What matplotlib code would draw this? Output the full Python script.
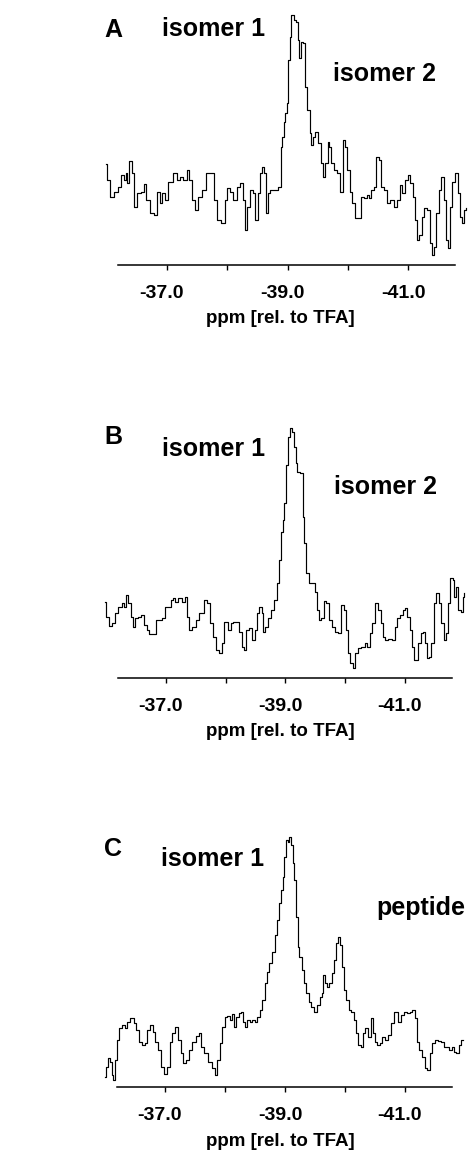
import matplotlib
matplotlib.use("Agg")
import matplotlib.pyplot as plt
from matplotlib.transforms import ScaledTranslation

plt.rcParams['font.family'] = ['Liberation Sans', 'DejaVu Sans']
plt.rcParams['font.weight'] = 'bold'

# 19F spectra, ppm relative to TFA, intensity in arbitrary units
A_ppm = [-36.00, -36.03, -36.09, -36.17, -36.23, -36.27, -36.31, -36.34, -36.36, -36.40,
         -36.44, -36.47, -36.53, -36.61, -36.64, -36.69, -36.77, -36.81, -36.86, -36.92,
         -36.94, -37.00, -37.04, -37.08, -37.14, -37.19, -37.25, -37.30, -37.36, -37.39,
         -37.44, -37.50, -37.55, -37.62, -37.68, -37.75, -37.80, -37.86, -37.94, -37.98,
         -38.02, -38.08, -38.13, -38.19, -38.24, -38.28, -38.32, -38.35, -38.41, -38.45,
         -38.49, -38.54, -38.56, -38.60, -38.63, -38.66, -38.68, -38.74, -38.82, -38.88,
         -38.90, -38.92, -38.95, -38.98, -39.00, -39.03, -39.04, -39.09, -39.13, -39.16,
         -39.18, -39.21, -39.24, -39.28, -39.31, -39.35, -39.38, -39.40, -39.43, -39.49,
         -39.53, -39.57, -39.60, -39.65, -39.68, -39.71, -39.74, -39.79, -39.85, -39.90,
         -39.94, -39.97, -40.01, -40.05, -40.09, -40.14, -40.19, -40.23, -40.29, -40.33,
         -40.36, -40.40, -40.45, -40.49, -40.54, -40.57, -40.62, -40.68, -40.73, -40.79,
         -40.84, -40.88, -40.92, -40.97, -41.01, -41.05, -41.09, -41.12, -41.16, -41.20,
         -41.25, -41.28, -41.34, -41.38, -41.41, -41.43, -41.48, -41.52, -41.57, -41.60,
         -41.64, -41.67, -41.71, -41.75, -41.80, -41.84, -41.88, -41.91, -41.94, -41.96]
A_int = [101, 85, 68, 73, 78, 90, 85, 92, 82, 104,
         92, 58, 72, 73, 81, 65, 52, 50, 73, 62,
         72, 65, 83, 83, 92, 85, 88, 85, 95, 85,
         65, 55, 68, 75, 92, 92, 65, 45, 42, 65,
         77, 73, 65, 78, 82, 65, 35, 58, 75, 72,
         45, 72, 92, 98, 92, 52, 72, 75, 75, 78,
         118, 128, 143, 152, 162, 205, 228, 250, 245, 243,
         225, 207, 223, 222, 178, 155, 132, 120, 128, 133,
         122, 102, 88, 102, 123, 118, 102, 95, 92, 73,
         125, 118, 95, 73, 62, 47, 47, 68, 67, 70,
         67, 75, 78, 108, 105, 78, 75, 62, 65, 58,
         65, 80, 72, 85, 90, 82, 68, 45, 25, 30,
         48, 57, 55, 22, 10, 18, 52, 75, 88, 65,
         25, 17, 58, 83, 92, 72, 48, 42, 55, 57]

B_ppm = [-35.98, -36.02, -36.06, -36.12, -36.17, -36.23, -36.29, -36.31, -36.35, -36.39,
         -36.43, -36.45, -36.51, -36.56, -36.61, -36.65, -36.70, -36.73, -36.82, -36.84,
         -36.90, -36.95, -37.00, -37.06, -37.10, -37.13, -37.18, -37.23, -37.29, -37.33,
         -37.37, -37.41, -37.47, -37.52, -37.60, -37.67, -37.71, -37.76, -37.82, -37.86,
         -37.92, -37.95, -38.00, -38.06, -38.10, -38.15, -38.21, -38.25, -38.28, -38.32,
         -38.36, -38.42, -38.46, -38.51, -38.54, -38.58, -38.62, -38.64, -38.69, -38.73,
         -38.79, -38.84, -38.88, -38.91, -38.94, -38.96, -38.99, -39.02, -39.06, -39.09,
         -39.13, -39.16, -39.19, -39.21, -39.27, -39.30, -39.33, -39.36, -39.41, -39.47,
         -39.51, -39.55, -39.58, -39.62, -39.66, -39.70, -39.74, -39.80, -39.86, -39.91,
         -39.95, -40.00, -40.02, -40.06, -40.11, -40.15, -40.19, -40.24, -40.30, -40.35,
         -40.39, -40.43, -40.47, -40.53, -40.57, -40.61, -40.65, -40.69, -40.75, -40.80,
         -40.85, -40.89, -40.94, -40.98, -41.02, -41.06, -41.10, -41.13, -41.17, -41.21,
         -41.24, -41.28, -41.32, -41.35, -41.37, -41.42, -41.46, -41.50, -41.54, -41.59,
         -41.62, -41.67, -41.70, -41.74, -41.78, -41.81, -41.84, -41.87, -41.91, -41.95,
         -41.98, -41.99]
B_int = [76, 61, 52, 55, 65, 71, 75, 71, 83, 75,
         61, 51, 60, 61, 63, 53, 48, 44, 44, 58,
         58, 60, 71, 71, 78, 80, 76, 80, 76, 81,
         61, 48, 51, 58, 65, 78, 75, 55, 41, 28,
         25, 35, 56, 48, 55, 56, 56, 46, 31, 28,
         48, 50, 38, 48, 65, 71, 65, 46, 51, 60,
         68, 78, 95, 118, 146, 158, 175, 213, 241, 250,
         246, 231, 215, 206, 205, 161, 135, 105, 95, 95,
         86, 68, 58, 60, 77, 75, 58, 51, 46, 45,
         73, 68, 48, 25, 15, 10, 25, 30, 31, 35,
         31, 45, 55, 75, 68, 55, 41, 38, 39, 38,
         51, 60, 63, 68, 70, 61, 48, 31, 18, 18,
         35, 45, 46, 35, 20, 21, 35, 75, 85, 75,
         55, 38, 45, 75, 100, 98, 81, 91, 68, 66,
         81, 85]

C_ppm = [-36.00, -36.03, -36.06, -36.10, -36.12, -36.15, -36.18, -36.22, -36.26, -36.31,
         -36.35, -36.39, -36.45, -36.50, -36.54, -36.58, -36.64, -36.68, -36.72, -36.77,
         -36.82, -36.86, -36.92, -36.96, -37.02, -37.06, -37.10, -37.14, -37.20, -37.24,
         -37.28, -37.32, -37.37, -37.43, -37.48, -37.54, -37.58, -37.63, -37.68, -37.75,
         -37.81, -37.85, -37.89, -37.93, -37.97, -38.02, -38.06, -38.10, -38.13, -38.17,
         -38.21, -38.25, -38.28, -38.32, -38.35, -38.39, -38.43, -38.47, -38.52, -38.56,
         -38.60, -38.64, -38.68, -38.72, -38.76, -38.81, -38.85, -38.89, -38.92, -38.95,
         -38.97, -39.00, -39.04, -39.06, -39.08, -39.11, -39.14, -39.17, -39.20, -39.22,
         -39.26, -39.30, -39.33, -39.37, -39.42, -39.46, -39.52, -39.56, -39.60, -39.63,
         -39.65, -39.68, -39.72, -39.76, -39.80, -39.83, -39.87, -39.91, -39.93, -39.96,
         -40.00, -40.04, -40.08, -40.13, -40.17, -40.20, -40.24, -40.28, -40.32, -40.36,
         -40.41, -40.45, -40.48, -40.52, -40.56, -40.60, -40.64, -40.68, -40.74, -40.80,
         -40.83, -40.87, -40.91, -40.95, -41.00, -41.06, -41.10, -41.14, -41.18, -41.22,
         -41.26, -41.31, -41.35, -41.39, -41.43, -41.47, -41.52, -41.57, -41.63, -41.67,
         -41.71, -41.75, -41.80, -41.83, -41.87, -41.92, -41.96]
C_int = [10, 20, 29, 25, 12, 7, 27, 47, 59, 62,
         59, 65, 69, 64, 57, 45, 42, 44, 57, 62,
         55, 45, 37, 20, 13, 20, 45, 54, 60, 47,
         34, 24, 27, 37, 45, 51, 54, 40, 34, 25,
         19, 12, 27, 44, 60, 70, 71, 67, 73, 60,
         70, 74, 75, 65, 60, 67, 65, 67, 65, 70,
         77, 87, 104, 115, 124, 135, 152, 167, 184, 197,
         210, 230, 247, 245, 250, 242, 224, 207, 170, 140,
         130, 117, 104, 94, 85, 80, 75, 82, 90, 94,
         112, 104, 100, 104, 114, 127, 144, 150, 142, 120,
         97, 87, 77, 75, 67, 54, 42, 40, 54, 59,
         50, 69, 54, 45, 42, 44, 50, 47, 52, 64,
         75, 75, 65, 72, 75, 74, 75, 77, 69, 45,
         37, 30, 19, 17, 34, 44, 47, 46, 45, 40,
         40, 37, 40, 35, 34, 42, 47]

major_ticks = [-37, -39, -41]
tick_labels = ['-37.0', '-39.0', '-41.0']
minor_ticks = [-38, -40]

# (letter, ppm, intensity, peak labels as (text, ppm, intensity))
panels = [
    ('A', A_ppm, A_int, [('isomer 1', -37.78, 236), ('isomer 2', -40.61, 191)]),
    ('B', B_ppm, B_int, [('isomer 1', -37.79, 229), ('isomer 2', -40.67, 191)]),
    ('C', C_ppm, C_int, [('isomer 1', -37.80, 228), ('peptide', -41.27, 179)]),
]

# pixel layout of each panel: x of -37 tick, x of -41 tick, y of baseline, y of letter
layout = [(166.7, 408.3, 265, 30), (166.0, 405.0, 678, 437), (165.0, 405.0, 1087, 849)]

W, H = 468, 1154
XLIM = (-35.9, -42.05)
YTOP = 265

fig = plt.figure(figsize=(W / 100, H / 100), dpi=100)

for (letter, ppm, inten, peaks), (t37, t41, base, ly) in zip(panels, layout):
    ppx = (t41 - t37) / 4.0
    left = t37 + (-37 - XLIM[0]) * ppx
    right = t37 + (-37 - XLIM[1]) * ppx
    ax = fig.add_axes([left / W, (H - base) / H, (right - left) / W, YTOP / H])
    ax.plot(ppm, inten, color='black', lw=0.85, drawstyle='steps-mid', clip_on=False)
    ax.set_xlim(XLIM)
    ax.set_ylim(0, YTOP)

    for s in ['top', 'right', 'left']:
        ax.spines[s].set_visible(False)
    ax.spines['bottom'].set_bounds(-36.2, -41.78)
    ax.spines['bottom'].set_linewidth(1.1)
    ax.set_yticks([])
    ax.set_xticks(major_ticks)
    ax.set_xticklabels(tick_labels, fontsize=14, fontweight='bold')
    ax.set_xticks(minor_ticks, minor=True)
    ax.tick_params(axis='x', which='both', direction='out', length=3.5, width=1, pad=11)
    for lbl in ax.get_xticklabels():
        lbl.set_transform(lbl.get_transform() + ScaledTranslation(-0.05, 0, fig.dpi_scale_trans))

    ax.set_xlabel('ppm [rel. to TFA]', fontsize=13.5, fontweight='bold')
    ax.xaxis.set_label_coords(((280 - left) / (right - left)), -54 / YTOP)
    ax.xaxis.label.set_verticalalignment('center')

    for txt, px, py in peaks:
        ax.text(px, py, txt, fontsize=18, fontweight='bold', ha='center', va='center')

    fig.text(113 / W, 1 - ly / H, letter, fontsize=18, fontweight='bold',
             ha='center', va='center')

fig.savefig('out.png', dpi=100)
